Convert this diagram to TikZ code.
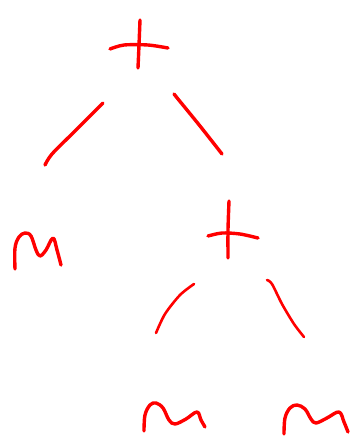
\documentclass[tikz,border=0pt]{standalone}
\begin{document}
\begin{tikzpicture}[x=1pt,y=-1pt,
  ink/.style={draw=red,line width=3.4pt,line cap=round,line join=round},
  thin ink/.style={draw=red,line width=2.6pt,line cap=round,line join=round}]
\useasboundingbox[fill=white] (0,0) rectangle (351,442);
% named coordinates
\coordinate (rootL) at (103,103);
\coordinate (rootR) at (174,94);
\coordinate (leftT) at (45,165);
\coordinate (plusT) at (222,154);
\coordinate (plusL) at (194,284);
\coordinate (plusR) at (267,280);
\coordinate (llT) at (156,333);
\coordinate (rrT) at (304,337);
% root plus
\draw[ink] plot[smooth] coordinates {(140,20) (139,45) (138,68)};
\draw[ink] plot[smooth] coordinates {(110,49) (124,45) (148,45) (168,48)};
% edges
\draw[ink] plot[smooth] coordinates {(rootL) (75,131) (52,154) (leftT)};
\draw[ink] plot[smooth] coordinates {(rootR) (178,99) (200,126) (plusT)};
\draw[thin ink] plot[smooth] coordinates {(plusL) (180,295) (165,314) (llT)};
\draw[thin ink] plot[smooth] coordinates {(plusR) (272,284) (282,304) (294,324) (rrT)};
% second plus
\draw[ink] plot[smooth] coordinates {(229,201) (228,230) (228,258)};
\draw[ink] plot[smooth] coordinates {(208,236) (222,233) (240,234) (258,238)};
% left n
\draw[ink] plot[smooth, tension=0.6] coordinates {(15,269) (15,248) (19,237) (25,233) (31,236) (36,250) (40,256) (46,250) (53,238) (57,250) (61,265)};
% bottom-left n
\draw[ink] plot[smooth, tension=0.6] coordinates {(144,431) (145,415) (150,405) (156,403) (163,408) (169,420) (175,424) (186,419) (197,412) (201,420) (205,427)};
% bottom-right n
\draw[ink] plot[smooth, tension=0.6] coordinates {(284,434) (285,418) (290,408) (297,405) (305,409) (311,419) (316,423) (327,418) (339,412) (344,422) (348,432)};
\end{tikzpicture}
\end{document}
